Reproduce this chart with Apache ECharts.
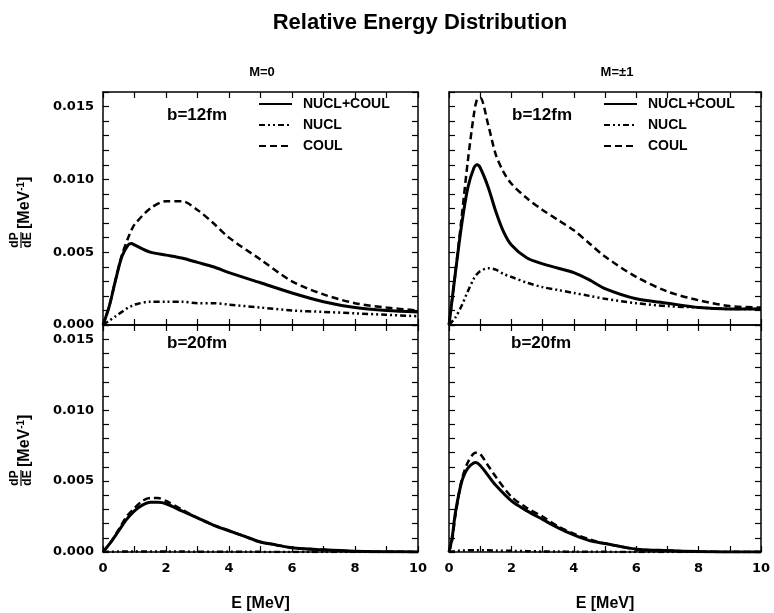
<!DOCTYPE html>
<html>
<head>
<meta charset="utf-8">
<script src="https://cdn.jsdelivr.net/npm/echarts@6/dist/echarts.min.js"></script>
<style>html,body{margin:0;padding:0;background:#fff}#c{width:774px;height:613px}</style>
</head>
<body>
<div id="c"></div>
<script>
// ---------- data ----------
const seriesNames = ['NUCL+COUL', 'NUCL', 'COUL'];
const xTickLabels = ['0', '2', '4', '6', '8', '10'];
const yTickLabels = ['0.000', '0.005', '0.010', '0.015'];

// Top-left: M=0, b=12fm
const eTL = [0, 0.2, 0.4, 0.6, 0.8, 0.9, 1.0, 1.5, 2.0, 2.5, 3.0, 3.5, 4.0, 5.0, 6.0, 7.0, 8.0, 9.0, 10.0];
const tlBoth = [0, 0.0013, 0.0031, 0.0047, 0.0055, 0.0056, 0.0055, 0.0050, 0.0048, 0.0046, 0.0043, 0.0040, 0.0036, 0.0029, 0.0022, 0.0016, 0.0012, 0.0010, 0.0009];
const tlNucl = [0, 0.0003, 0.0006, 0.0009, 0.0012, 0.0013, 0.0014, 0.0016, 0.0016, 0.0016, 0.0015, 0.0015, 0.0014, 0.0012, 0.0010, 0.0009, 0.0008, 0.0007, 0.0006];
const tlCoul = [0, 0.0013, 0.0031, 0.0048, 0.0060, 0.0065, 0.0069, 0.0080, 0.0085, 0.0085, 0.0079, 0.0070, 0.0060, 0.0045, 0.0030, 0.0021, 0.0015, 0.0012, 0.0010];

// Top-right: M=±1, b=12fm
const eTR = [0, 0.2, 0.4, 0.6, 0.8, 0.9, 1.0, 1.25, 1.5, 1.75, 2.0, 2.5, 3.0, 3.5, 4.0, 4.5, 5.0, 6.0, 7.0, 8.0, 9.0, 10.0];
const trBoth = [0, 0.0035, 0.0068, 0.0094, 0.0108, 0.0110, 0.0108, 0.0095, 0.0078, 0.0064, 0.0055, 0.0046, 0.0042, 0.0039, 0.0036, 0.0031, 0.0025, 0.0018, 0.0015, 0.0012, 0.0011, 0.0011];
const trNucl = [0, 0.0005, 0.0013, 0.0023, 0.0032, 0.0035, 0.0037, 0.0039, 0.0038, 0.0035, 0.0033, 0.0029, 0.0026, 0.0024, 0.0022, 0.0020, 0.0018, 0.0015, 0.0013, 0.0012, 0.0011, 0.0011];
const trCoul = [0, 0.0035, 0.0073, 0.0112, 0.0145, 0.0155, 0.0156, 0.0138, 0.0117, 0.0105, 0.0097, 0.0087, 0.0079, 0.0072, 0.0065, 0.0056, 0.0047, 0.0033, 0.0023, 0.0017, 0.0013, 0.0012];

// Bottom-left: M=0, b=20fm
const eBL = [0, 0.25, 0.5, 0.75, 1.0, 1.25, 1.5, 1.75, 2.0, 2.5, 3.0, 3.5, 4.0, 4.5, 5.0, 5.5, 6.0, 7.0, 8.0, 9.0, 10.0];
const blBoth = [0, 0.0007, 0.0015, 0.0023, 0.0029, 0.0033, 0.0035, 0.0035, 0.0034, 0.0029, 0.0024, 0.0019, 0.0015, 0.0011, 0.0007, 0.0005, 0.0003, 0.00015, 0.00005, 0.00002, 0];
const blNucl = [0, 0.00002, 0.00003, 0.00004, 0.00004, 0.00004, 0.00004, 0.00004, 0.00003, 0.00003, 0.00002, 0.00002, 0.00001, 0.00001, 0.00001, 0, 0, 0, 0, 0, 0];
const blCoul = [0, 0.0007, 0.0016, 0.0025, 0.0031, 0.0036, 0.0038, 0.0038, 0.0036, 0.0030, 0.0024, 0.0019, 0.0015, 0.0011, 0.0007, 0.0005, 0.0003, 0.00015, 0.00005, 0.00002, 0];

// Bottom-right: M=±1, b=20fm
const eBR = [0, 0.1, 0.2, 0.4, 0.6, 0.85, 1.0, 1.25, 1.5, 2.0, 2.5, 3.0, 3.5, 4.0, 4.5, 5.0, 6.0, 7.0, 8.0, 9.0, 10.0];
const brBoth = [0, 0.0010, 0.0027, 0.0049, 0.0059, 0.0063, 0.0061, 0.0054, 0.0047, 0.0036, 0.0029, 0.0023, 0.0017, 0.0012, 0.0008, 0.0006, 0.0002, 0.0001, 0.00003, 0, 0];
const brNucl = [0, 0.00003, 0.00006, 0.0001, 0.00012, 0.00013, 0.00013, 0.00012, 0.0001, 0.00008, 0.00006, 0.00004, 0.00003, 0.00002, 0.00001, 0.00001, 0, 0, 0, 0, 0];
const brCoul = [0, 0.0008, 0.0025, 0.0050, 0.0063, 0.0070, 0.0069, 0.0061, 0.0053, 0.0039, 0.0031, 0.0025, 0.0018, 0.0013, 0.0009, 0.0006, 0.0002, 0.0001, 0.00003, 0, 0];

const panels = [
  { e: eTL, vals: [tlBoth, tlNucl, tlCoul] },
  { e: eTR, vals: [trBoth, trNucl, trCoul] },
  { e: eBL, vals: [blBoth, blNucl, blCoul] },
  { e: eBR, vals: [brBoth, brNucl, brCoul] }
];

// ---------- layout / style ----------
const BOLD = 'Liberation Sans';
const grids = [
  { left: 103, top: 92, width: 315, height: 233 },
  { left: 449, top: 92, width: 312, height: 233 },
  { left: 103, top: 325, width: 315, height: 233 },
  { left: 449, top: 325, width: 312, height: 233 }
];
const lineStyles = [
  { color: '#000', width: 3, type: 'solid' },
  { color: '#000', width: 2.5, type: [6, 3, 2, 3, 2, 3] },
  { color: '#000', width: 2.5, type: [7, 4] }
];
const axisLine = { show: true, onZero: false, lineStyle: { color: '#000', width: 1.5 } };
const tick = { show: true, inside: true, length: 6, lineStyle: { color: '#000', width: 1.2 } };

const xAxes = [], yAxes = [], series = [];
for (let i = 0; i < 4; i++) {
  const bottomRow = i >= 2, leftCol = i % 2 === 0;
  xAxes.push({
    type: 'value', gridIndex: i, min: 0, max: 10, interval: 1, position: 'bottom',
    axisLine, axisTick: tick, splitLine: { show: false },
    axisLabel: {
      show: bottomRow, margin: 10, color: '#000', fontFamily: 'DejaVu Sans', fontWeight: 'bold', fontSize: 13,
      formatter: v => { const k = Math.round(v); return (k % 2 === 0) ? xTickLabels[k / 2] : ''; }
    },
    name: bottomRow ? 'E [MeV]' : '', nameLocation: 'middle', nameGap: 44,
    nameTextStyle: { fontFamily: BOLD, fontWeight: 'bold', fontSize: 16, color: '#000' }
  });
  xAxes.push({
    type: 'value', gridIndex: i, min: 0, max: 10, interval: 1, position: 'top',
    axisLine, axisTick: tick, splitLine: { show: false }, axisLabel: { show: false }
  });
  yAxes.push({
    type: 'value', gridIndex: i, min: 0, max: 0.016, interval: 0.001, position: 'left',
    axisLine, axisTick: tick, splitLine: { show: false },
    axisLabel: {
      show: leftCol, margin: 9, color: '#000', fontFamily: 'DejaVu Sans', fontWeight: 'bold', fontSize: 13,
      formatter: v => { const k = Math.round(v * 1000); return (k % 5 === 0 && k <= 15) ? yTickLabels[k / 5] : ''; }
    }
  });
  yAxes.push({
    type: 'value', gridIndex: i, min: 0, max: 0.016, interval: 0.001, position: 'right',
    axisLine, axisTick: tick, splitLine: { show: false }, axisLabel: { show: false }
  });
  const p = panels[i];
  for (let s = 0; s < 3; s++) {
    series.push({
      type: 'line', name: seriesNames[s], xAxisIndex: 2 * i, yAxisIndex: 2 * i,
      data: p.e.map((x, j) => [x, p.vals[s][j]]),
      smooth: 0.3, symbol: 'none', showSymbol: false, lineStyle: lineStyles[s],
      itemStyle: { color: '#000' }, z: 3 - s, animation: false
    });
  }
}

function legendAt(left) {
  return {
    left, top: 97, padding: 0, orient: 'vertical', itemWidth: 33, itemHeight: 14, itemGap: 7,
    selectedMode: false, data: seriesNames,
    itemStyle: { opacity: 0, borderWidth: 0 },
    textStyle: { fontFamily: BOLD, fontWeight: 'bold', fontSize: 14, color: '#000', padding: [0, 0, 0, 6] }
  };
}

function yTitle(cy) {
  return {
    type: 'group', x: 21, y: cy, rotation: Math.PI / 2,
    children: [
      { type: 'text', x: 0, y: -6, style: { text: 'dP', font: 'bold 12px "Liberation Sans"', fill: '#000', align: 'center', verticalAlign: 'middle' } },
      { type: 'line', shape: { x1: -8, y1: 0, x2: 8, y2: 0 }, style: { stroke: '#000', lineWidth: 1.2 } },
      { type: 'text', x: 0, y: 7, style: { text: 'dE', font: 'bold 12px "Liberation Sans"', fill: '#000', align: 'center', verticalAlign: 'middle' } },
      { type: 'text', x: 11, y: 4, style: {
          text: '{a|[MeV}{s|-1}{a|]}', align: 'left', verticalAlign: 'middle',
          rich: {
            a: { fontFamily: BOLD, fontWeight: 'bold', fontSize: 16, fill: '#000', color: '#000' },
            s: { fontFamily: BOLD, fontWeight: 'bold', fontSize: 10, color: '#000', verticalAlign: 'top', padding: [0, 0, 8, 0] }
          } } }
    ]
  };
}

function txt(x, y, text, size, align) {
  return { type: 'text', x, y, style: { text, font: 'bold ' + size + 'px "Liberation Sans"', fill: '#000', align: align || 'left', verticalAlign: 'middle' } };
}

const chart = echarts.init(document.getElementById('c'), null, { renderer: 'canvas' });
chart.setOption({
  backgroundColor: '#fff',
  animation: false,
  grid: grids,
  xAxis: xAxes,
  yAxis: yAxes,
  legend: [legendAt(258), legendAt(603)],
  series,
  graphic: [
    txt(420, 23, 'Relative Energy Distribution', 22, 'center'),
    txt(262, 72, 'M=0', 13, 'center'),
    txt(617, 72, 'M=±1', 13, 'center'),
    txt(167, 115, 'b=12fm', 17),
    txt(512, 115, 'b=12fm', 17),
    txt(167, 343, 'b=20fm', 17),
    txt(511, 343, 'b=20fm', 17),
    yTitle(240),
    yTitle(478)
  ]
});
</script>
</body>
</html>
